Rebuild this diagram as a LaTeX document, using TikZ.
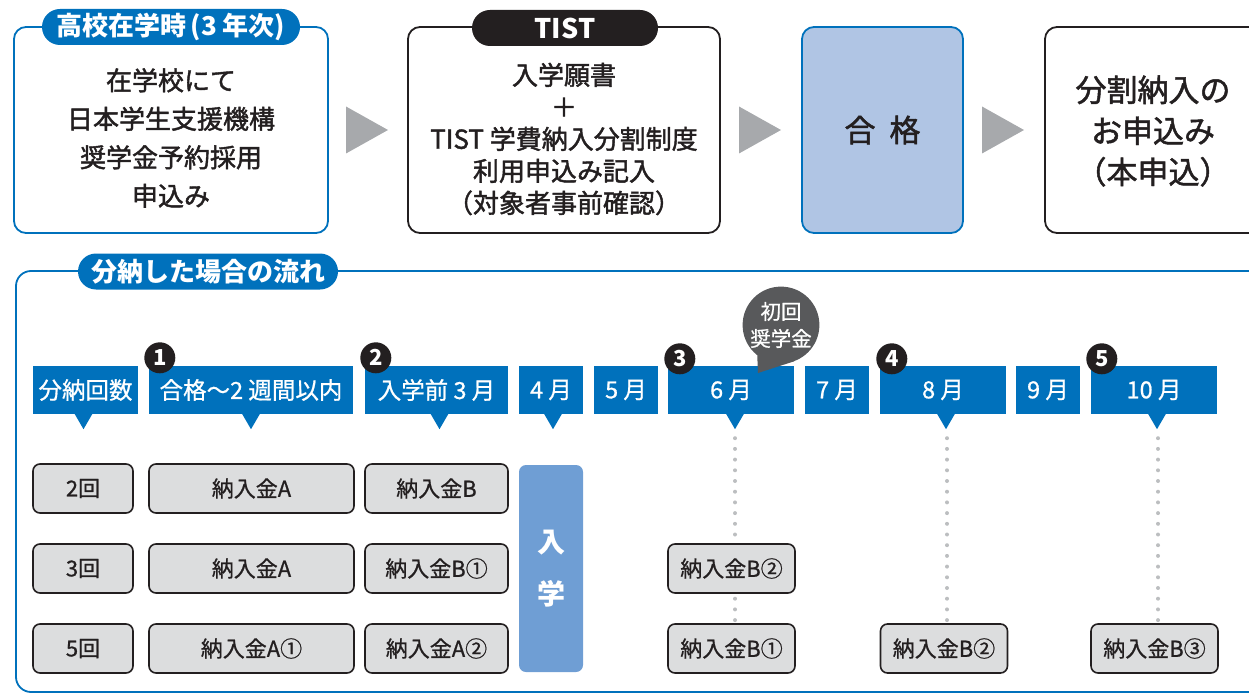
\documentclass[tikz,border=0pt]{standalone}
\usepackage{fontspec}
\setmainfont{Noto Sans CJK JP}
\newfontfamily\medfont{Noto Sans CJK JP}[FakeBold=1.6]
\newfontfamily\semifont{Noto Sans CJK JP}[FakeBold=0.8]
\usetikzlibrary{backgrounds,calc}
\definecolor{tblue}{HTML}{0071BC}
\definecolor{pale}{HTML}{B0C5E4}
\definecolor{midblue}{HTML}{6F9ED4}
\definecolor{boxgray}{HTML}{DCDDDE}
\definecolor{arrgray}{HTML}{A7A9AC}
\definecolor{bubble}{HTML}{58595B}
\definecolor{dotgray}{HTML}{BCBEC0}
\definecolor{numblack}{HTML}{231F20}

\begin{document}
\begin{tikzpicture}[x=1pt,y=-1pt,
  stage/.style={draw,line width=1.8pt,rounded corners=12pt,minimum height=206pt,inner sep=0pt},
  stagetext/.style={align=center,text=numblack,font=\medfont\fontsize{26}{32}\selectfont},
  pill/.style={rounded corners=18pt,minimum height=36pt,inner sep=0pt,text=white,font=\bfseries\fontsize{25}{25}\selectfont},
  fwd/.style={fill=arrgray},
  month/.style={fill=tblue,text=white,minimum height=48pt,inner sep=0pt,font=\semifont\fontsize{23.5}{23.5}\selectfont},
  num/.style={circle,fill=numblack,text=white,minimum size=31pt,inner sep=0pt,font=\bfseries\fontsize{22}{22}\selectfont},
  pay/.style={draw=numblack,fill=boxgray,line width=1.6pt,rounded corners=7pt,minimum height=49pt,inner sep=0pt,text=numblack,font=\semifont\fontsize{22}{22}\selectfont},
  dotline/.style={dotgray,line width=4pt,line cap=round,dash pattern=on 0pt off 10.7pt}]

\useasboundingbox (0,0) rectangle (1249,695);
\clip (0,0) rectangle (1249,695);

\node[stage,draw=tblue,minimum width=314pt] (school) at (171,130) {};
\node[pill,fill=tblue,minimum width=258pt,font=\bfseries\fontsize{26}{26}\selectfont] (schooltag) at (171,27) {高校在学時\hspace{0.15em}(3 年次)};
\node[stagetext,font=\medfont\fontsize{26}{38.5}\selectfont] (schooltxt) at (171,138) {在学校にて\\日本学生支援機構\\奨学金予約採用\\申込み};

\node[stage,draw=numblack,minimum width=312pt] (apply) at (564,130) {};
\node[pill,fill=numblack,minimum width=186pt,font=\bfseries\fontsize{27}{27}\selectfont] (applytag) at (565,28) {TIST};
\node[stagetext] (applytxt) at (564,139) {入学願書\\＋\\TIST 学費納入分割制度\\利用申込み記入\\（対象者事前確認）};

\node[stage,draw=tblue,fill=pale,minimum width=161pt] (pass) at (882.5,130) {};
\node[text=numblack,font=\medfont\fontsize{31}{31}\selectfont] (passtxt) at (pass) {合\hspace{0.45em}格};

\node[stage,draw=numblack,minimum width=216pt] (final) at (1153,130) {};
\node[stagetext,font=\medfont\fontsize{31}{41}\selectfont] (finaltxt) at (1153,131) {分割納入の\\お申込み\\（本申込）};

\coordinate (go1) at ($(school.east)!0.5!(apply.west)$);
\coordinate (go2) at ($(apply.east)!0.5!(pass.west)$);
\coordinate (go3) at ($(pass.east)!0.5!(final.west)$);
\foreach \g in {go1,go2,go3}
  \fill[fwd] ([xshift=-22pt,yshift=23.5pt]\g) -- ([xshift=20pt]\g) -- ([xshift=-22pt,yshift=-23.5pt]\g) -- cycle;

\draw[tblue,line width=1.8pt,rounded corners=15pt] (1300,271) -- (16,271) -- (16,692) -- (1300,692);
\node[pill,fill=tblue,minimum width=260pt,font=\bfseries\fontsize{26}{26}\selectfont] (flowtag) at (208,271.5) {分納した場合の流れ};

\node[month,minimum width=105pt] (h0) at (85.5,390) {分納回数};
\node[month,minimum width=204pt] (h1) at (251,390) {合格〜2 週間以内};
\node[month,minimum width=143pt] (h2) at (436.5,390) {入学前 3 月};
\node[month,minimum width=64pt] (h3) at (551,390) {4 月};
\node[month,minimum width=64pt] (h4) at (626,390) {5 月};
\node[month,minimum width=126pt] (h5) at (731,390) {6 月};
\node[month,minimum width=64pt] (h6) at (837,390) {7 月};
\node[month,minimum width=126pt] (h7) at (943,390) {8 月};
\node[month,minimum width=64pt] (h8) at (1048,390) {9 月};
\node[month,minimum width=126pt] (h9) at (1154,390) {10 月};
\foreach \h/\s in {h0/-2,h1/0,h2/3,h3/2,h5/4,h7/3,h9/3}
  \fill[tblue] ([xshift=\s pt]\h.south) ++(-9,-0.5) -- ++(18,0) -- ++(-9,15.5) -- cycle;

\node[num] (n1) at ([xshift=11pt,yshift=8pt]h1.north west) {1};
\node[num] (n2) at ([xshift=11pt,yshift=8pt]h2.north west) {2};
\node[num] (n3) at ([xshift=12pt,yshift=7pt]h5.north west) {3};
\node[num] (n4) at ([xshift=12pt,yshift=7pt]h7.north west) {4};
\node[num] (n5) at ([xshift=11pt,yshift=7pt]h9.north west) {5};

\node[circle,fill=bubble,minimum size=76pt,inner sep=0pt,align=center,text=white,font=\semifont\fontsize{20.5}{27}\selectfont] (first) at (781,325) {初回\\奨学金};
\coordinate (firsttail) at (758,373);
\fill[bubble] (first.232) -- (firsttail) -- (first.290) -- cycle;

\node[pay,minimum width=100pt] (r1) at (83,488.5) {2回};
\node[pay,minimum width=205pt] (a1) at (251.5,488.5) {納入金A};
\node[pay,minimum width=143pt] (b1) at (436.5,488.5) {納入金B};
\node[pay,minimum width=100pt] (r2) at (83,568.5) {3回};
\node[pay,minimum width=205pt] (a2) at (251.5,568.5) {納入金A};
\node[pay,minimum width=143pt] (b2) at (436.5,568.5) {納入金B①};
\node[pay,minimum width=127pt] (c2) at (731.5,568.5) {納入金B②};
\node[pay,minimum width=100pt] (r3) at (83,648.5) {5回};
\node[pay,minimum width=205pt] (a3) at (251.5,648.5) {納入金A①};
\node[pay,minimum width=143pt] (b3) at (436.5,648.5) {納入金A②};
\node[pay,minimum width=127pt] (c3) at (731.5,648.5) {納入金B①};
\node[pay,minimum width=127pt] (d3) at (944,648.5) {納入金B②};
\node[pay,minimum width=127pt] (e3) at (1154.5,648.5) {納入金B③};

\node[fill=midblue,rounded corners=7pt,minimum width=64pt,minimum height=207pt,inner sep=0pt,align=center,text=white,font=\bfseries\fontsize{28}{52}\selectfont] (enter) at (551,568.5) {入\\学};

\begin{scope}[on background layer]
\foreach \h/\b in {h5/c3,h7/d3,h9/e3}
  \draw[dotline] ([xshift=4pt,yshift=-24pt]\h.south) -- ([xshift=4pt]\h.south |- \b.north);
\end{scope}

\end{tikzpicture}
\end{document}
